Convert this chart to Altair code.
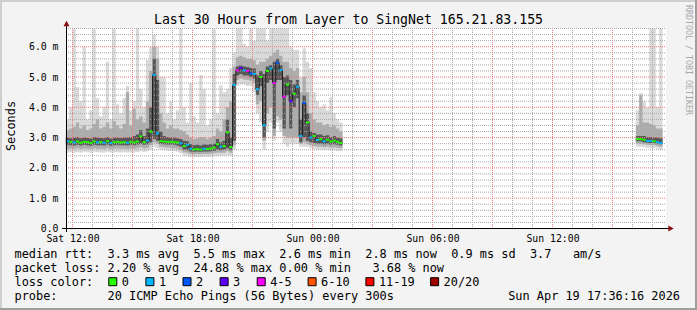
import altair as alt
import pandas as pd

# ------------------------------------------------------------------ data
DAY_OFFSET = {"Sat": 0, "Sun": 24}
X_START_HOURS = 11.675          # left edge of the 30-hour window (Sat ~11:40)
WINDOW_HOURS = 30
SEGMENT_STARTS = ["Sat 11:40", "Sun 16:10"]
STEP_MINUTES = 10

# segment 1 (Sat 11:40 .. Sun 01:30)
median_1 = [2.88, 2.86, 2.84, 2.87, 2.83, 2.86, 2.85, 2.82, 2.87, 2.84,
            2.85, 2.83, 2.88, 2.82, 2.85, 2.86, 2.84, 2.85, 2.83, 2.86,
            2.84, 2.87, 3.04, 2.85, 2.90, 3.20, 5.07, 3.14, 2.88, 2.87,
            2.86, 2.86, 2.85, 2.84, 2.81, 2.72, 2.76, 2.63, 2.61, 2.62,
            2.60, 2.63, 2.62, 2.64, 2.67, 2.78, 2.70, 2.72, 3.17, 2.69,
            4.74, 5.22, 5.30, 5.22, 5.20, 5.12, 5.10, 4.60, 5.00, 3.41,
            5.20, 5.28, 4.80, 5.47, 5.23, 4.35, 4.75, 4.20, 4.45, 4.68,
            3.05, 4.14, 3.50, 3.00, 3.05, 2.92, 2.95, 2.88, 2.93, 2.87,
            2.90, 2.86, 2.82]
loss_1 = ["1", "0", "1", "0", "0", "0", "0", "0", "0", "1",
          "0", "1", "0", "1", "0", "0", "0", "0", "1", "0",
          "0", "0", "0", "0", "1", "0", "1", "1", "0", "0",
          "0", "0", "0", "0", "1", "0", "1", "1", "0", "0",
          "0", "1", "0", "0", "0", "0", "1", "0", "0", "0",
          "1", "4-5", "3", "1", "4-5", "2", "1", "1", "0", "1",
          "0", "1", "4-5", "2", "1", "4-5", "0", "3", "0", "1",
          "1", "2", "0", "1", "0", "1", "0", "1", "0", "0",
          "0", "0", "0"]
light_lo_1 = [2.50, 2.52, 2.50, 2.52, 2.50, 2.53, 2.52, 2.50, 2.53, 2.52,
              2.51, 2.50, 2.53, 2.51, 2.52, 2.52, 2.51, 2.52, 2.51, 2.52,
              2.51, 2.52, 2.55, 2.52, 2.55, 2.60, 2.70, 2.65, 2.60, 2.58,
              2.57, 2.56, 2.55, 2.53, 2.48, 2.42, 2.40, 2.36, 2.35, 2.36,
              2.35, 2.36, 2.36, 2.37, 2.38, 2.40, 2.40, 2.40, 2.42, 2.40,
              2.60, 4.70, 4.75, 4.75, 4.70, 4.70, 4.50, 3.80, 3.50, 2.60,
              3.20, 3.50, 2.90, 3.50, 3.20, 2.80, 2.70, 2.80, 2.80, 2.80,
              2.70, 2.70, 2.70, 2.65, 2.62, 2.60, 2.60, 2.58, 2.60, 2.57,
              2.58, 2.56, 2.55]
mid_lo_1 = [2.62, 2.64, 2.63, 2.65, 2.62, 2.64, 2.63, 2.62, 2.65, 2.63,
            2.63, 2.62, 2.65, 2.62, 2.64, 2.64, 2.63, 2.63, 2.62, 2.64,
            2.63, 2.65, 2.68, 2.64, 2.66, 2.75, 2.85, 2.80, 2.70, 2.68,
            2.67, 2.66, 2.65, 2.63, 2.58, 2.52, 2.50, 2.46, 2.45, 2.46,
            2.45, 2.46, 2.46, 2.47, 2.48, 2.50, 2.50, 2.50, 2.55, 2.50,
            2.75, 4.90, 4.95, 4.92, 4.90, 4.88, 4.80, 4.10, 4.20, 2.90,
            3.80, 4.00, 3.05, 3.70, 3.60, 3.05, 3.00, 3.00, 3.00, 3.00,
            2.80, 2.85, 2.80, 2.75, 2.72, 2.70, 2.70, 2.68, 2.70, 2.67,
            2.68, 2.66, 2.65]
dark_lo_1 = [2.76, 2.75, 2.74, 2.76, 2.74, 2.76, 2.75, 2.73, 2.76, 2.75,
             2.75, 2.74, 2.77, 2.73, 2.75, 2.76, 2.75, 2.75, 2.74, 2.76,
             2.75, 2.77, 2.80, 2.76, 2.78, 2.85, 2.95, 2.90, 2.80, 2.78,
             2.77, 2.77, 2.76, 2.74, 2.70, 2.60, 2.58, 2.54, 2.53, 2.54,
             2.53, 2.54, 2.54, 2.55, 2.56, 2.60, 2.58, 2.60, 2.65, 2.58,
             2.90, 5.05, 5.10, 5.05, 5.05, 5.00, 4.95, 4.40, 4.70, 3.00,
             4.80, 4.90, 3.30, 4.90, 4.90, 3.30, 4.40, 3.30, 4.00, 4.30,
             2.85, 3.00, 2.90, 2.85, 2.82, 2.80, 2.80, 2.78, 2.80, 2.77,
             2.78, 2.76, 2.74]
dark_hi_1 = [3.00, 2.98, 3.00, 3.02, 2.98, 3.00, 2.99, 2.97, 3.02, 3.00,
             2.99, 2.98, 3.02, 2.97, 3.00, 3.00, 2.99, 3.00, 3.00, 3.02,
             3.05, 3.10, 3.25, 3.05, 3.30, 4.00, 5.60, 4.90, 3.20, 3.05,
             3.02, 3.00, 3.00, 2.98, 2.95, 2.90, 2.88, 2.78, 2.75, 2.76,
             2.74, 2.77, 2.76, 2.78, 2.80, 2.95, 2.85, 2.90, 3.60, 3.00,
             5.10, 5.35, 5.38, 5.35, 5.33, 5.30, 5.28, 5.05, 5.20, 5.10,
             5.35, 5.40, 5.50, 5.60, 5.40, 5.00, 5.05, 4.90, 4.75, 4.90,
             3.60, 4.40, 3.80, 3.20, 3.15, 3.10, 3.10, 3.05, 3.08, 3.02,
             3.05, 3.00, 2.98]
mid_hi_1 = [3.25, 3.30, 3.35, 3.50, 3.30, 3.40, 3.25, 3.30, 3.45, 3.60,
            3.30, 3.35, 3.50, 3.30, 3.55, 3.40, 3.30, 3.45, 4.50, 3.40,
            3.95, 3.60, 3.70, 3.50, 4.20, 5.20, 6.00, 5.60, 3.80, 3.50,
            3.30, 3.40, 3.30, 3.30, 3.25, 3.20, 3.10, 3.00, 2.95, 2.98,
            3.00, 3.00, 2.95, 3.00, 3.05, 3.30, 3.20, 3.60, 4.00, 4.20,
            5.35, 5.65, 5.70, 5.65, 5.60, 5.60, 5.55, 5.40, 5.50, 5.50,
            5.60, 5.70, 5.80, 5.90, 5.70, 5.50, 5.50, 5.30, 5.20, 5.30,
            4.50, 5.00, 4.50, 3.80, 3.60, 3.50, 3.50, 3.40, 3.45, 3.35,
            3.40, 3.30, 3.20]
light_hi_1 = [3.60, 4.00, 6.60, 4.67, 4.20, 6.00, 3.60, 3.90, 6.60, 4.30,
              3.70, 4.00, 5.50, 3.60, 6.60, 4.10, 3.80, 4.30, 4.70, 3.90,
              4.20, 6.60, 4.60, 4.00, 5.56, 6.00, 6.40, 6.00, 5.00, 5.00,
              3.80, 4.20, 3.60, 3.90, 6.60, 4.00, 3.50, 4.80, 3.70, 3.50,
              5.07, 4.60, 3.40, 3.60, 6.60, 3.80, 4.73, 4.50, 4.60, 5.30,
              5.80, 6.60, 6.60, 6.10, 6.00, 6.60, 6.20, 6.60, 6.60, 6.60,
              6.20, 6.60, 6.60, 6.60, 6.60, 6.60, 6.60, 6.00, 5.90, 5.90,
              5.00, 5.95, 5.50, 5.30, 4.50, 4.20, 4.00, 4.10, 3.90, 4.34,
              3.80, 3.60, 3.50]

# segment 2 (Sun 16:10 .. Sun 17:30)
median_2 = [2.95, 2.95, 2.93, 2.89, 2.89, 2.88, 2.85, 2.82]
loss_2 = ["0", "0", "0", "1", "1", "0", "1", "1"]
light_lo_2 = [2.70, 2.70, 2.68, 2.66, 2.65, 2.65, 2.63, 2.60]
mid_lo_2 = [2.80, 2.80, 2.78, 2.76, 2.75, 2.75, 2.72, 2.70]
dark_lo_2 = [2.88, 2.88, 2.85, 2.83, 2.82, 2.82, 2.80, 2.78]
dark_hi_2 = [3.05, 3.05, 3.05, 3.02, 3.02, 3.00, 3.00, 2.98]
mid_hi_2 = [3.40, 4.40, 3.50, 3.50, 3.45, 3.40, 3.30, 3.30]
light_hi_2 = [3.90, 4.47, 4.20, 4.00, 6.60, 6.60, 4.00, 6.60]

Y_MAX = 6.6
PX_PER_MS = 30.3
Y_TICKS = [0, 1, 2, 3, 4, 5, 6]
MINOR_Y_STEP = 0.2
X_LABEL_HOURS = [12, 18, 24, 30, 36]

LOSS_LABELS = ["0", "1", "2", "3", "4-5", "6-10", "11-19", "20/20"]
LOSS_COLORS = ["#26FF00", "#00B8FF", "#0059FF", "#5E00FF", "#FF00FF",
               "#FF5500", "#FF0000", "#A10000"]

TITLE = "Last 30 Hours from Layer to SingNet 165.21.83.155"
Y_TITLE = "Seconds"
ROW_RTT = "median rtt:  3.3 ms avg  5.5 ms max  2.6 ms min  2.8 ms now  0.9 ms sd  3.7   am/s"
ROW_LOSS = "packet loss: 2.20 % avg  24.88 % max 0.00 % min   3.68 % now"
ROW_COLOR = "loss color:"
ROW_PROBE = "probe:       20 ICMP Echo Pings (56 Bytes) every 300s"
DATE_TEXT = "Sun Apr 19 17:36:16 2026"
WATERMARK = "RRDTOOL / TOBI OETIKER"

# ------------------------------------------------------------------ build tables
def to_hours(label):
    day, hm = label.split()
    h, m = hm.split(":")
    return DAY_OFFSET[day] + int(h) + int(m) / 60


segments = [
    (median_1, loss_1, light_lo_1, mid_lo_1, dark_lo_1, dark_hi_1, mid_hi_1, light_hi_1),
    (median_2, loss_2, light_lo_2, mid_lo_2, dark_lo_2, dark_hi_2, mid_hi_2, light_hi_2),
]
cols = ["median", "loss", "light_lo", "mid_lo", "dark_lo", "dark_hi", "mid_hi", "light_hi"]
step_h = STEP_MINUTES / 60
samples, smoke = [], []
for seg, (start, arrays) in enumerate(zip(SEGMENT_STARTS, segments)):
    t0 = to_hours(start)
    n = len(arrays[0])
    for k in range(n):
        row = {c: a[k] for c, a in zip(cols, arrays)}
        row.update(seg=seg, t=t0 + k * step_h, t_end=t0 + (k + 1) * step_h)
        samples.append(row)
        smoke.append(row)
    closing = dict(samples[-1])
    closing["t"] = closing["t_end"]
    smoke.append(closing)
samples = pd.DataFrame(samples)
smoke = pd.DataFrame(smoke)

x0, x1 = X_START_HOURS, X_START_HOURS + WINDOW_HOURS
grid_v = pd.DataFrame({"gh": [float(h) for h in range(12, 42)]})
grid_v["major"] = grid_v["gh"] % 3 == 0
grid_h = pd.DataFrame({"gv": [round(k * MINOR_Y_STEP, 1) for k in range(1, 34)]})
grid_h["major"] = (grid_h["gv"] % 1).abs() < 1e-9

# ------------------------------------------------------------------ encodings
FONT = "DejaVu Sans Mono"
NB = "\u00a0"
xs = alt.Scale(domain=[x0, x1], nice=False, zero=False)
ys = alt.Scale(domain=[0, Y_MAX], range=[200.5, 200.5 - Y_MAX * PX_PER_MS], nice=False, zero=False)
x_axis = alt.Axis(
    values=X_LABEL_HOURS, title=None, domain=False, ticks=False, grid=False,
    labelExpr="(datum.value < 24 ? 'Sat ' : 'Sun ') + ((datum.value % 24) < 10 ? '0' : '') + (datum.value % 24) + ':00'",
    labelFont=FONT, labelFontSize=9.8, labelColor="#000000", labelPadding=5,
)
y_axis = alt.Axis(
    values=Y_TICKS, title=None, domain=False, ticks=False, grid=False,
    labelExpr="datum.value == 0 ? '0.0' : format(datum.value, '.1f') + '\u00a0m'",
    labelFont=FONT, labelFontSize=9.8, labelColor="#000000", labelPadding=8,
)


def X(field):
    return alt.X(field, type="quantitative", scale=xs, axis=x_axis)


def Y(field):
    return alt.Y(field, type="quantitative", scale=ys, axis=y_axis)


layers = []
for lo, hi, color in [("light_lo", "light_hi", "#DADADA"),
                      ("mid_lo", "mid_hi", "#ADADAD"),
                      ("dark_lo", "dark_hi", "#585858")]:
    layers.append(
        alt.Chart(smoke).mark_area(interpolate="step-after", color=color, opacity=1)
        .encode(x=X("t"), y=Y(lo), y2=alt.Y2(hi), detail="seg:N")
    )

# grid (drawn over the smoke like rrdtool): minor grey, major red, both dotted
grid_color = alt.condition("datum.major", alt.value("#F07878"), alt.value("#A8A8A8"))
layers.append(alt.Chart(grid_v).mark_rule(strokeDash=[1, 1], strokeWidth=1, opacity=1)
              .encode(x=X("gh"), y=alt.value(0), y2=alt.value(200), color=grid_color))
layers.append(alt.Chart(grid_h).mark_rule(strokeDash=[1, 1], strokeWidth=1, opacity=1)
              .encode(y=Y("gv"), x=alt.value(0), x2=alt.value(600), color=grid_color))

# median: thin dark step line + loss-coloured segments
layers.append(alt.Chart(smoke).mark_line(interpolate="step-after", color="#202020", strokeWidth=1)
              .encode(x=X("t"), y=Y("median"), detail="seg:N"))
layers.append(alt.Chart(samples).mark_rule(strokeWidth=2)
              .encode(x=X("t"), x2="t_end", y=Y("median"),
                      color=alt.Color("loss:N", scale=alt.Scale(domain=LOSS_LABELS, range=LOSS_COLORS), legend=None)))

# axes lines and arrows
one = pd.DataFrame({"k": [0]})
layers.append(alt.Chart(one).mark_rule(color="#000000", strokeWidth=1)
              .encode(x=alt.value(0.5), y=alt.value(-6), y2=alt.value(204)))
layers.append(alt.Chart(one).mark_rule(color="#000000", strokeWidth=1)
              .encode(y=alt.value(200.5), x=alt.value(-4), x2=alt.value(604)))
layers.append(alt.Chart(one).mark_point(shape="M-1,0.9L1,0.9L0,-0.9Z", filled=True, size=36, color="#8B1010", opacity=1)
              .encode(x=alt.value(0.5), y=alt.value(-4.5)))
layers.append(alt.Chart(one).mark_point(shape="M-0.9,-1L0.9,0L-0.9,1Z", filled=True, size=36, color="#8B1010", opacity=1)
              .encode(x=alt.value(605), y=alt.value(200.5)))

# frame
layers.append(alt.Chart(one).mark_rule(color="#CFCFCF", strokeWidth=2)
              .encode(x=alt.value(-66), x2=alt.value(631), y=alt.value(-27)))
layers.append(alt.Chart(one).mark_rule(color="#CFCFCF", strokeWidth=2)
              .encode(x=alt.value(-65), y=alt.value(-28), y2=alt.value(282)))
layers.append(alt.Chart(one).mark_rule(color="#9E9E9E", strokeWidth=2)
              .encode(x=alt.value(-66), x2=alt.value(631), y=alt.value(281)))
layers.append(alt.Chart(one).mark_rule(color="#9E9E9E", strokeWidth=2)
              .encode(x=alt.value(630), y=alt.value(-28), y2=alt.value(282)))


def text_layer(txt, x, y, size=11.9, align="left", baseline="middle", angle=0, color="#000000"):
    return (alt.Chart(pd.DataFrame({"s": [txt.replace(" ", NB)]}))
            .mark_text(font=FONT, fontSize=size, align=align, baseline=baseline, angle=angle, color=color)
            .encode(x=alt.value(x), y=alt.value(y), text="s:N"))


layers.append(text_layer(TITLE, 282.5, -4.5, size=13.2, align="center", baseline="alphabetic"))
layers.append(text_layer(Y_TITLE, -55, 98, angle=270, align="center"))
layers.append(text_layer(WATERMARK, 622, -23, size=8.3, angle=90, color="#A8A8A8"))
layers.append(text_layer(ROW_RTT, -51.5, 226.3))
layers.append(text_layer(ROW_LOSS, -51.5, 240.3))
layers.append(text_layer(ROW_COLOR, -51.5, 253.7))
layers.append(text_layer(ROW_PROBE, -51.5, 268))
layers.append(text_layer(DATE_TEXT, 614, 268, align="right"))

# loss colour legend swatches
entry_left = 108.3 - 66
for label, color in zip(LOSS_LABELS, LOSS_COLORS):
    layers.append(alt.Chart(one).mark_point(shape="square", filled=True, size=64, fill=color,
                                            stroke="#000000", strokeWidth=1, opacity=1)
                  .encode(x=alt.value(entry_left + 4.5), y=alt.value(253.7)))
    layers.append(text_layer(label, entry_left + 13.5, 253.7))
    entry_left += 30.2 + 6.9 * len(label)

chart = alt.layer(*layers).properties(
    width=600, height=200,
    padding={"left": 66, "top": 28, "right": 31, "bottom": 82},
    autosize=alt.AutoSizeParams(type="none"),
    background="#F3F3F3",
).configure_view(fill="#FFFFFF", stroke=None)

chart.save("out.html", embed_options={"renderer": "svg", "actions": False})
